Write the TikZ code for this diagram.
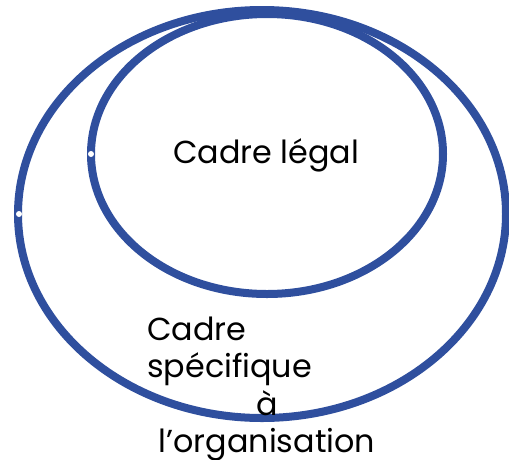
\documentclass[tikz,border=0pt]{standalone}
\usepackage{fontspec}
\setmainfont{Poppins}
\definecolor{ringblue}{RGB}{47,79,158}
\begin{document}
\begin{tikzpicture}[x=1pt,y=-1pt,
  ring/.style={draw=ringblue,line width=8pt},
  dot/.style={circle,fill=white,inner sep=0pt,minimum size=6pt},
  lbl/.style={font=\fontsize{31.8}{36.5}\selectfont,inner sep=0pt}]
\useasboundingbox (0,0) rectangle (509,459);
\draw[ring] (262,214) ellipse [x radius=244, y radius=204];
\draw[ring] (267,154) ellipse [x radius=176, y radius=140];
\node[dot] (d1) at (19,214) {};
\node[dot] (d2) at (91,154) {};
\node[lbl,anchor=base] (legal) at (266,163) {Cadre légal};
\node[lbl,anchor=base west,align=left] (spec) at (147,377) {Cadre\\spécifique};
\node[lbl,anchor=base,align=center] (org) at (267,452) {à\\l’organisation};
\end{tikzpicture}
\end{document}
